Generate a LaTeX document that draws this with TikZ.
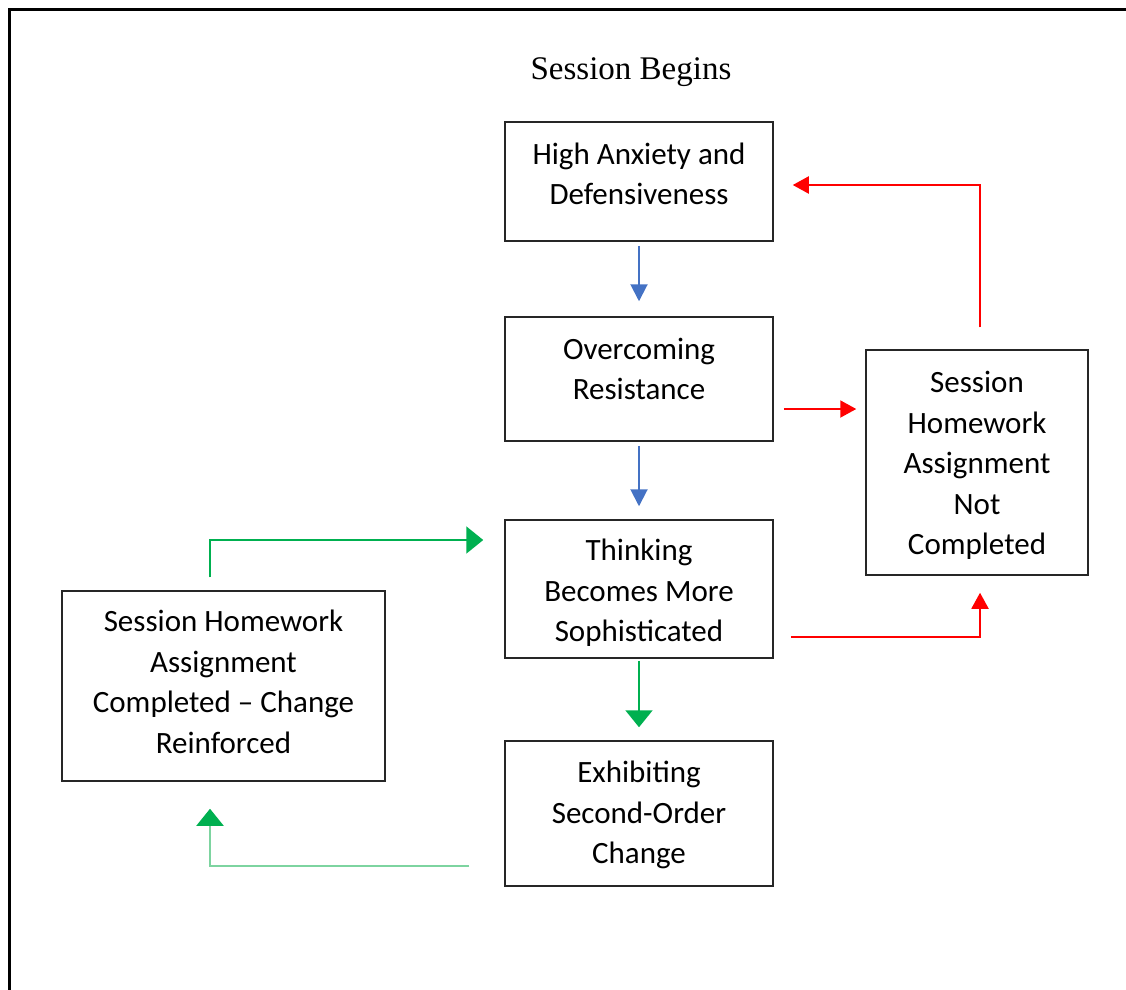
\documentclass[tikz,border=0pt]{standalone}
\usepackage{fontspec}
\setmainfont{Carlito}
\newfontfamily\titlefont{Liberation Serif}
\usetikzlibrary{arrows.meta}

\definecolor{flowblue}{RGB}{68,114,196}
\definecolor{flowred}{RGB}{255,0,0}
\definecolor{flowgreen}{RGB}{0,176,80}
\definecolor{palegreen}{RGB}{125,212,160}

\begin{document}
\begin{tikzpicture}[
    x=1pt, y=-1pt,
    box/.style = {draw=black!85, line width=1.5pt, align=center, inner sep=0pt,
      font=\fontsize{31}{40.5}\selectfont},
    blueflow/.style = {draw=flowblue, line width=2pt, -{Triangle[width=17pt,length=17pt]}},
    redflow/.style = {draw=flowred, line width=2pt, -{Triangle[width=17pt,length=16pt]}},
    greenflow/.style = {draw=flowgreen, line width=2pt, -{Triangle[width=27pt,length=17pt]}},
    ]
    \clip (0,0) rectangle (1126,989);
    \useasboundingbox (0,0) rectangle (1126,989);
    \draw[line width=3pt] (9.5,1100) |- (1200,9.5);

    \node[font=\titlefont\fontsize{33}{40}\selectfont] (start) at (631,72) {Session Begins};

    \node[box, minimum width=268pt, minimum height=119pt] (b1) at (639,181.5) {High Anxiety and\\Defensiveness\rule[-16pt]{0pt}{0pt}};
    \node[box, minimum width=268pt, minimum height=124pt] (b2) at (639,379) {Overcoming\\Resistance\rule[-20pt]{0pt}{0pt}};
    \node[box, minimum width=268pt, minimum height=138pt] (b3) at (639,589) {\rule{0pt}{29.5pt}Thinking\\Becomes More\\Sophisticated};
    \node[box, minimum width=268pt, minimum height=145pt] (b4) at (639,813.5) {\rule{0pt}{25pt}Exhibiting\\Second-Order\\Change};
    \node[box, minimum width=222pt, minimum height=225pt] (b5) at (977,462.5) {\rule{0pt}{27pt}Session\\Homework\\Assignment\\Not\\Completed};
    \node[box, minimum width=323pt, minimum height=190pt] (b6) at (223.5,686) {Session Homework\\Assignment\\Completed -- Change\\Reinforced\rule[-9pt]{0pt}{0pt}};

    % main column
    \draw[blueflow, shorten <=4pt, shorten >=15pt] (b1.south) -- (b2.north);
    \draw[blueflow, shorten <=4pt, shorten >=13pt] (b2.south) -- (b3.north);
    \draw[greenflow, shorten <=2pt, shorten >=13pt] (b3.south) -- (b4.north);

    % homework not done
    \draw[redflow, shorten <=10pt, shorten >=9pt] ([yshift=-30pt]b2.east) -- ([yshift=53.5pt]b5.west);
    \draw[redflow, shorten <=22pt, shorten >=19pt] ([xshift=3pt]b5.north) |- ([yshift=-3.5pt]b1.east);
    \draw[redflow, shorten <=17pt, shorten >=17pt] ([yshift=-48pt]b3.east) -| ([xshift=3pt]b5.south);

    % homework done
    \draw[greenflow, shorten <=13pt, shorten >=21pt] ([xshift=-13.5pt]b6.north) |- ([yshift=49pt]b3.west);
    \draw[draw=palegreen, line width=2pt, -{Triangle[width=27pt,length=17pt,color=flowgreen]},
      shorten <=35pt, shorten >=27pt] ([yshift=-52.5pt]b4.west) -| ([xshift=-13.5pt]b6.south);
\end{tikzpicture}
\end{document}
